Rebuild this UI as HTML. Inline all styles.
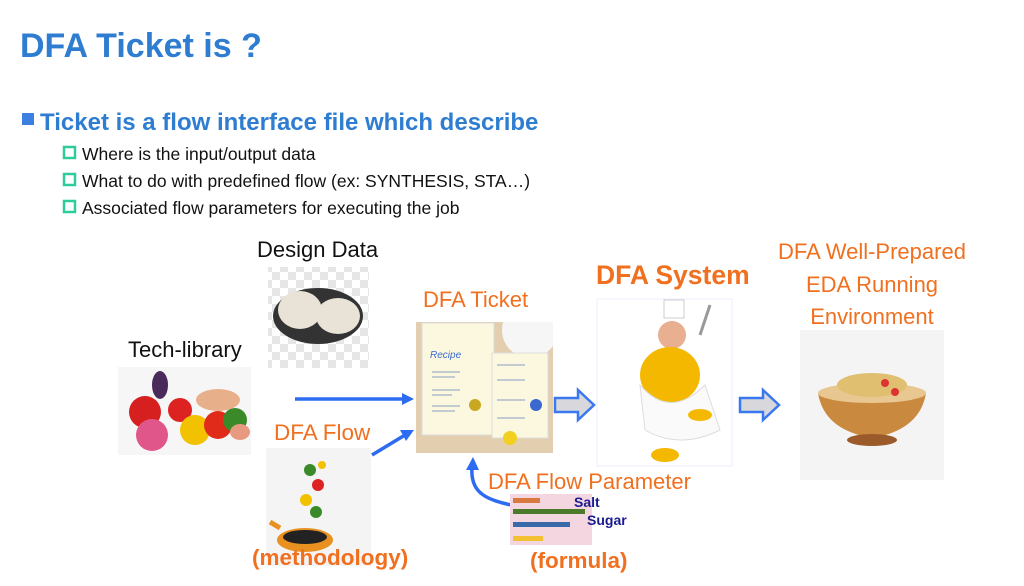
<!DOCTYPE html>
<html><head><meta charset="utf-8"><style>
html,body{margin:0;padding:0;background:#fff;}
svg{display:block;}
text{font-family:"Liberation Sans",sans-serif;}
</style></head><body>
<svg width="1024" height="586" viewBox="0 0 1024 586" xmlns="http://www.w3.org/2000/svg">
<defs>
<pattern id="chk" width="16" height="16" patternUnits="userSpaceOnUse">
<rect width="16" height="16" fill="#fff"/><rect width="8" height="8" fill="#e6e6e6"/><rect x="8" y="8" width="8" height="8" fill="#e6e6e6"/>
</pattern>
<clipPath id="tk"><rect x="416" y="322" width="137" height="131"/></clipPath>
</defs>
<!-- title -->
<text x="20" y="57" font-size="34" font-weight="bold" fill="#2e7dd1">DFA Ticket is ?</text>
<rect x="22" y="113" width="12" height="12" fill="#3b7fe0"/>
<text x="40" y="130" font-size="24" font-weight="bold" fill="#2e7dd1">Ticket is a flow interface file which describe</text>
<g font-size="17.5" fill="#111">
<rect x="64" y="147" width="11" height="11" fill="none" stroke="#2ecc9a" stroke-width="2.5"/>
<text x="82" y="160">Where is the input/output data</text>
<rect x="64" y="174" width="11" height="11" fill="none" stroke="#2ecc9a" stroke-width="2.5"/>
<text x="82" y="187">What to do with predefined flow (ex: SYNTHESIS, STA…)</text>
<rect x="64" y="201" width="11" height="11" fill="none" stroke="#2ecc9a" stroke-width="2.5"/>
<text x="82" y="214">Associated flow parameters for executing the job</text>
</g>

<!-- Design Data -->
<text x="257" y="257" font-size="22" fill="#111">Design Data</text>
<rect x="268" y="267" width="101" height="101" fill="url(#chk)"/>
<ellipse cx="318" cy="316" rx="45" ry="28" fill="#333"/>
<ellipse cx="300" cy="310" rx="22" ry="19" fill="#e8e3d6"/>
<ellipse cx="338" cy="316" rx="22" ry="18" fill="#e8e3d6"/>

<!-- Tech-library -->
<text x="128" y="357" font-size="22" fill="#111">Tech-library</text>
<rect x="118" y="367" width="133" height="88" fill="#f6f6f6"/>
<circle cx="145" cy="412" r="16" fill="#d62020"/>
<circle cx="152" cy="435" r="16" fill="#e0558a"/>
<ellipse cx="160" cy="385" rx="8" ry="14" fill="#4a2a5a"/>
<circle cx="180" cy="410" r="12" fill="#d22"/>
<circle cx="195" cy="430" r="15" fill="#f2c200"/>
<circle cx="218" cy="425" r="14" fill="#e02a1a"/>
<circle cx="235" cy="420" r="12" fill="#3a8a2a"/>
<ellipse cx="218" cy="400" rx="22" ry="11" fill="#e8b08a"/>
<ellipse cx="240" cy="432" rx="10" ry="8" fill="#e89a80"/>

<!-- DFA Flow -->
<text x="274" y="440" font-size="22.5" fill="#f07020">DFA Flow</text>
<rect x="266" y="448" width="105" height="118" fill="#f4f4f4"/>
<ellipse cx="305" cy="540" rx="28" ry="12" fill="#e89020"/>
<ellipse cx="305" cy="537" rx="22" ry="7" fill="#222"/>
<line x1="280" y1="528" x2="270" y2="522" stroke="#e89020" stroke-width="5"/>
<circle cx="310" cy="470" r="6" fill="#3a8a2a"/><circle cx="318" cy="485" r="6" fill="#d22"/>
<circle cx="306" cy="500" r="6" fill="#f2c200"/><circle cx="316" cy="512" r="6" fill="#3a8a2a"/>
<circle cx="322" cy="465" r="4" fill="#f2c200"/>
<text x="252" y="565" font-size="22.5" font-weight="bold" fill="#f07020">(methodology)</text>

<!-- arrows in -->
<g stroke="#2d6cf0" stroke-width="3.5" fill="#2d6cf0">
<line x1="295" y1="399" x2="405" y2="399"/>
<polygon points="414,399 402,393 402,405" stroke="none"/>
<line x1="372" y1="455" x2="405" y2="435"/>
<polygon points="414,430 400,430 406,441" stroke="none"/>
<path d="M511,505 C490,500 470,495 472,468" fill="none"/>
<polygon points="473,457 466,470 479,470" stroke="none"/>
</g>

<!-- DFA Ticket -->
<text x="423" y="307" font-size="22" fill="#f07020">DFA Ticket</text>
<rect x="416" y="322" width="137" height="131" fill="#e3cfb0"/>
<circle cx="530" cy="330" r="28" fill="#f6f6f6" clip-path="url(#tk)"/>
<rect x="422" y="323" width="72" height="112" fill="#fbf8df" stroke="#ddd"/>
<rect x="492" y="353" width="56" height="85" fill="#fbf8df" stroke="#ddd"/>
<text x="430" y="358" font-size="10" font-style="italic" fill="#3a6ad0">Recipe</text>
<g stroke="#8aa0c0" stroke-width="1">
<line x1="432" y1="372" x2="460" y2="372"/><line x1="432" y1="377" x2="455" y2="377"/>
<line x1="432" y1="390" x2="460" y2="390"/><line x1="432" y1="395" x2="452" y2="395"/>
<line x1="432" y1="406" x2="460" y2="406"/><line x1="432" y1="411" x2="455" y2="411"/>
<line x1="497" y1="365" x2="525" y2="365"/><line x1="497" y1="380" x2="525" y2="380"/>
<line x1="497" y1="400" x2="525" y2="400"/><line x1="497" y1="418" x2="525" y2="418"/>
</g>
<circle cx="475" cy="405" r="6" fill="#c8a820"/><circle cx="536" cy="405" r="6" fill="#3a6ad0"/>
<circle cx="510" cy="438" r="7" fill="#f2d020"/>

<!-- hollow arrows -->
<g fill="#d8d8dc" stroke="#3a78f0" stroke-width="2.5">
<polygon points="555,398 578,398 578,390 594,405 578,420 578,412 555,412"/>
<polygon points="740,398 763,398 763,390 779,405 763,420 763,412 740,412"/>
</g>

<!-- DFA System -->
<text x="596" y="284" font-size="26.5" font-weight="bold" fill="#f07020">DFA System</text>
<rect x="597" y="299" width="135" height="167" fill="#fff" stroke="#eef" />
<rect x="664" y="300" width="20" height="18" fill="#fff" stroke="#ccc"/>
<circle cx="672" cy="335" r="14" fill="#e8b090"/>
<ellipse cx="670" cy="375" rx="30" ry="28" fill="#f5b800"/>
<path d="M640,385 Q670,420 705,385 L720,430 Q680,450 645,430 Z" fill="#fafafa" stroke="#ddd"/>
<ellipse cx="665" cy="455" rx="14" ry="7" fill="#f5b800"/>
<ellipse cx="700" cy="415" rx="12" ry="6" fill="#f5b800"/>
<line x1="700" y1="335" x2="710" y2="305" stroke="#999" stroke-width="3"/>

<!-- DFA Flow Parameter -->
<text x="488" y="489" font-size="22" fill="#f07020">DFA Flow Parameter</text>
<rect x="510" y="494" width="82" height="51" fill="#f4d6e0"/>
<rect x="513" y="498" width="27" height="5" fill="#d87a40"/>
<rect x="513" y="509" width="72" height="5" fill="#4a7a2a"/>
<rect x="513" y="522" width="57" height="5" fill="#3a6aaa"/>
<rect x="513" y="536" width="30" height="5" fill="#f2c030"/>
<text x="574" y="507" font-size="14" font-weight="bold" fill="#1a1a90">Salt</text>
<text x="587" y="525" font-size="14" font-weight="bold" fill="#1a1a90">Sugar</text>
<text x="530" y="568" font-size="22.5" font-weight="bold" fill="#f07020">(formula)</text>

<!-- Environment -->
<g font-size="22" fill="#f07020" text-anchor="middle">
<text x="872" y="259">DFA Well-Prepared</text>
<text x="872" y="292">EDA Running</text>
<text x="872" y="324">Environment</text>
</g>
<rect x="800" y="330" width="144" height="150" fill="#f4f4f4"/>
<path d="M818,393 L926,393 Q920,430 872,438 Q824,430 818,393 Z" fill="#c98a40"/>
<ellipse cx="872" cy="393" rx="54" ry="10" fill="#e8c890"/>
<ellipse cx="872" cy="385" rx="35" ry="12" fill="#e0c070"/>
<ellipse cx="872" cy="440" rx="25" ry="6" fill="#9a5a2a"/>
<circle cx="885" cy="383" r="4" fill="#d33"/><circle cx="895" cy="392" r="4" fill="#d33"/>
</svg>
</body></html>
